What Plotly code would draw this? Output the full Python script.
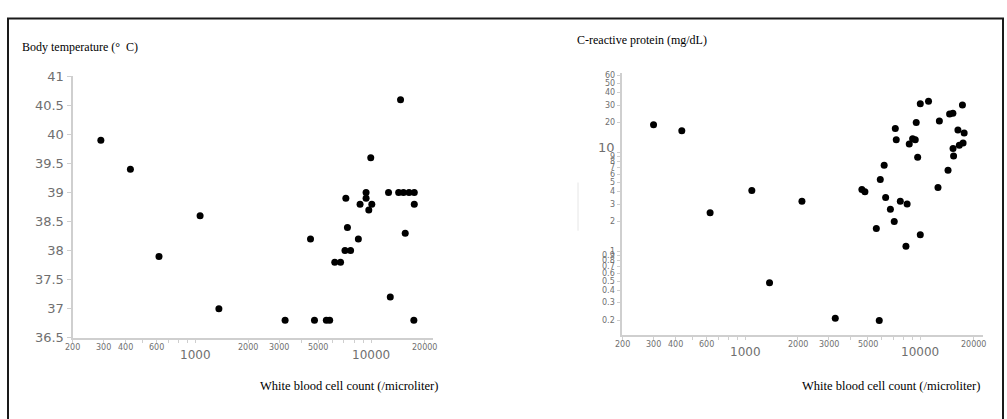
import math
import plotly.graph_objects as go

# ---------------- data ----------------
wbc_temp = [290, 427, 621, 1064, 1361, 3240, 4520, 4760, 5560, 5810, 6210, 6700,
            7100, 7640, 7180, 7330, 8460, 8650, 9360, 9360, 9700, 10090, 9950,
            12560, 12850, 14700, 14340, 15270, 16430, 17600, 15630, 17600, 17500]
temp = [39.9, 39.4, 37.9, 38.6, 37.0, 36.8, 38.2, 36.8, 36.8, 36.8, 37.8, 37.8,
        38.0, 38.0, 38.9, 38.4, 38.2, 38.8, 39.0, 38.9, 38.7, 38.8, 39.6,
        39.0, 37.2, 40.6, 39.0, 39.0, 39.0, 39.0, 38.3, 38.8, 36.8]

wbc_crp = [300, 435, 631, 1092, 1378, 2110, 3270, 4640, 4830, 5610, 5830, 5910,
           6220, 6340, 6750, 7100, 7200, 7290, 7690, 8280, 8410, 8650, 9040, 9360,
           9480, 9660, 10000, 10000, 11140, 12620, 12850, 14400, 14700, 15350,
           15380, 15490, 16400, 16700, 17400, 17550, 17800]
crp = [19, 16.5, 2.45, 4.1, 0.48, 3.2, 0.21, 4.2, 4.0, 1.7, 0.2, 5.3,
       7.4, 3.5, 2.65, 2.0, 17.4, 13.4, 3.2, 1.12, 3.0, 12.1, 13.7, 13.4,
       20, 8.9, 31, 1.47, 32.9, 4.4, 20.7, 6.6, 24.4, 24.8,
       10.9, 9.2, 16.8, 11.8, 30, 12.4, 15.7]

x_tick_marks = [200, 300, 400, 500, 600, 700, 800, 900, 1000, 2000, 3000, 4000,
                5000, 6000, 7000, 8000, 9000, 10000, 20000]
x_small_labels = [200, 300, 400, 600, 2000, 3000, 5000, 20000]
x_big_labels = [1000, 10000]

temp_ticks = [36.5, 37, 37.5, 38, 38.5, 39, 39.5, 40, 40.5, 41]

crp_tick_marks = [0.2, 0.3, 0.4, 0.5, 0.6, 0.7, 0.8, 0.9, 1, 2, 3, 4, 5, 6, 7, 8, 9,
                  10, 20, 30, 40, 50, 60]
crp_small_labels = [0.2, 0.3, 0.4, 0.5, 0.6, 0.7, 0.8, 0.9, 1, 2, 3, 4, 5, 6, 7, 8, 9,
                    20, 30, 40, 50, 60]
crp_big_labels = [10]

W, H = 1007, 419
SERIF = "Liberation Serif, Times New Roman, serif"
SANS = "DejaVu Sans, Verdana, sans-serif"
LBL = "#6f6f6f"
AX = "#cfcfcf"


def px(v):
    return v / W


def py(v):
    return 1 - v / H


fig = go.Figure()
fig.add_trace(go.Scatter(x=wbc_temp, y=temp, mode="markers", xaxis="x", yaxis="y",
                         marker=dict(color="black", size=7), showlegend=False,
                         hoverinfo="skip"))
fig.add_trace(go.Scatter(x=wbc_crp, y=crp, mode="markers", xaxis="x2", yaxis="y2",
                         marker=dict(color="black", size=7), showlegend=False,
                         hoverinfo="skip"))

common_x = dict(type="log", showgrid=False, zeroline=False, showline=True,
                linecolor=AX, linewidth=2, ticks="outside", ticklen=3,
                tickcolor=AX, tickvals=x_tick_marks, showticklabels=False)

fig.update_layout(
    width=W, height=H, margin=dict(l=0, r=0, t=0, b=0),
    paper_bgcolor="white", plot_bgcolor="white",
    xaxis=dict(domain=[px(72.5), px(433)], range=[math.log10(200), 4.352],
               anchor="y", **common_x),
    yaxis=dict(domain=[py(343), py(72)], range=[36.5, 41], anchor="x",
               showgrid=False, zeroline=False, showline=True, linecolor=AX,
               linewidth=2, ticks="outside", ticklen=4, tickcolor=AX,
               tickvals=temp_ticks, ticktext=[f"{t:g}" for t in temp_ticks],
               tickfont=dict(family=SANS, size=13, color=LBL)),
    xaxis2=dict(domain=[px(622), px(983)], range=[2.297, 4.358], anchor="y2",
                **common_x),
    yaxis2=dict(domain=[py(340), py(68)], range=[-0.845, 1.806], anchor="x2",
                type="log", showgrid=False, zeroline=False, showline=True,
                linecolor=AX, linewidth=2, ticks="outside", ticklen=3,
                tickcolor=AX, tickvals=crp_tick_marks, showticklabels=False),
)

ann = []
# x tick labels, both panels
for xr, yr_small, yr_big in (("x", 353, 361), ("x2", 350, 358)):
    for v in x_small_labels:
        ann.append(dict(x=math.log10(v), xref=xr, y=py(yr_small), yref="paper",
                        text=str(v), showarrow=False, xanchor="center", yanchor="middle",
                        font=dict(family=SANS, size=8, color=LBL)))
    for v in x_big_labels:
        ann.append(dict(x=math.log10(v), xref=xr, y=py(yr_big), yref="paper",
                        text=str(v), showarrow=False, xanchor="center", yanchor="middle",
                        font=dict(family=SANS, size=12, color=LBL)))
# right panel y tick labels
for v in crp_small_labels:
    ann.append(dict(x=px(617), xref="paper", y=math.log10(v), yref="y2",
                    text=f"{v:g}", showarrow=False, xanchor="right", yanchor="middle",
                    font=dict(family=SANS, size=8, color=LBL)))
for v in crp_big_labels:
    ann.append(dict(x=px(617), xref="paper", y=math.log10(v), yref="y2",
                    text=f"{v:g}", showarrow=False, xanchor="right", yanchor="bottom",
                    yshift=-5, font=dict(family=SANS, size=13, color=LBL)))

# titles
ann.append(dict(x=px(20), xref="paper", y=py(42), yref="paper", text="Body temperature (°  C)",
                showarrow=False, xanchor="left", yanchor="middle",
                font=dict(family=SERIF, size=12, color="black")))
ann.append(dict(x=px(575), xref="paper", y=py(34), yref="paper", text="C-reactive protein (mg/dL)",
                showarrow=False, xanchor="left", yanchor="middle",
                font=dict(family=SERIF, size=12, color="black")))
ann.append(dict(x=px(440), xref="paper", y=py(393), yref="paper",
                text="White blood cell count (/microliter)",
                showarrow=False, xanchor="right", yanchor="middle",
                font=dict(family=SERIF, size=12.5, color="black")))
ann.append(dict(x=px(982), xref="paper", y=py(393), yref="paper",
                text="White blood cell count (/microliter)",
                showarrow=False, xanchor="right", yanchor="middle",
                font=dict(family=SERIF, size=12.5, color="black")))

fig.update_layout(annotations=ann)

fig.update_layout(shapes=[
    dict(type="rect", xref="paper", yref="paper", x0=px(8), x1=px(1003),
         y0=-0.1, y1=py(12), line=dict(color="#1a1a1a", width=2)),
    dict(type="line", xref="paper", yref="paper", x0=px(578), x1=px(578),
         y0=py(232), y1=py(182), line=dict(color="#e6e6e6", width=1)),
])

post = (
    "document.documentElement.style.margin='0';"
    "document.documentElement.style.overflow='hidden';"
    "document.body.style.margin='0';document.body.style.padding='0';"
    "document.body.style.overflow='hidden';"
    "var d=document.getElementById('{plot_id}');"
    "d.style.position='fixed';d.style.top='0px';d.style.left='0px';"
)

fig.write_html(
    "out.html",
    config={"displayModeBar": False, "responsive": False},
    post_script=post,
)
